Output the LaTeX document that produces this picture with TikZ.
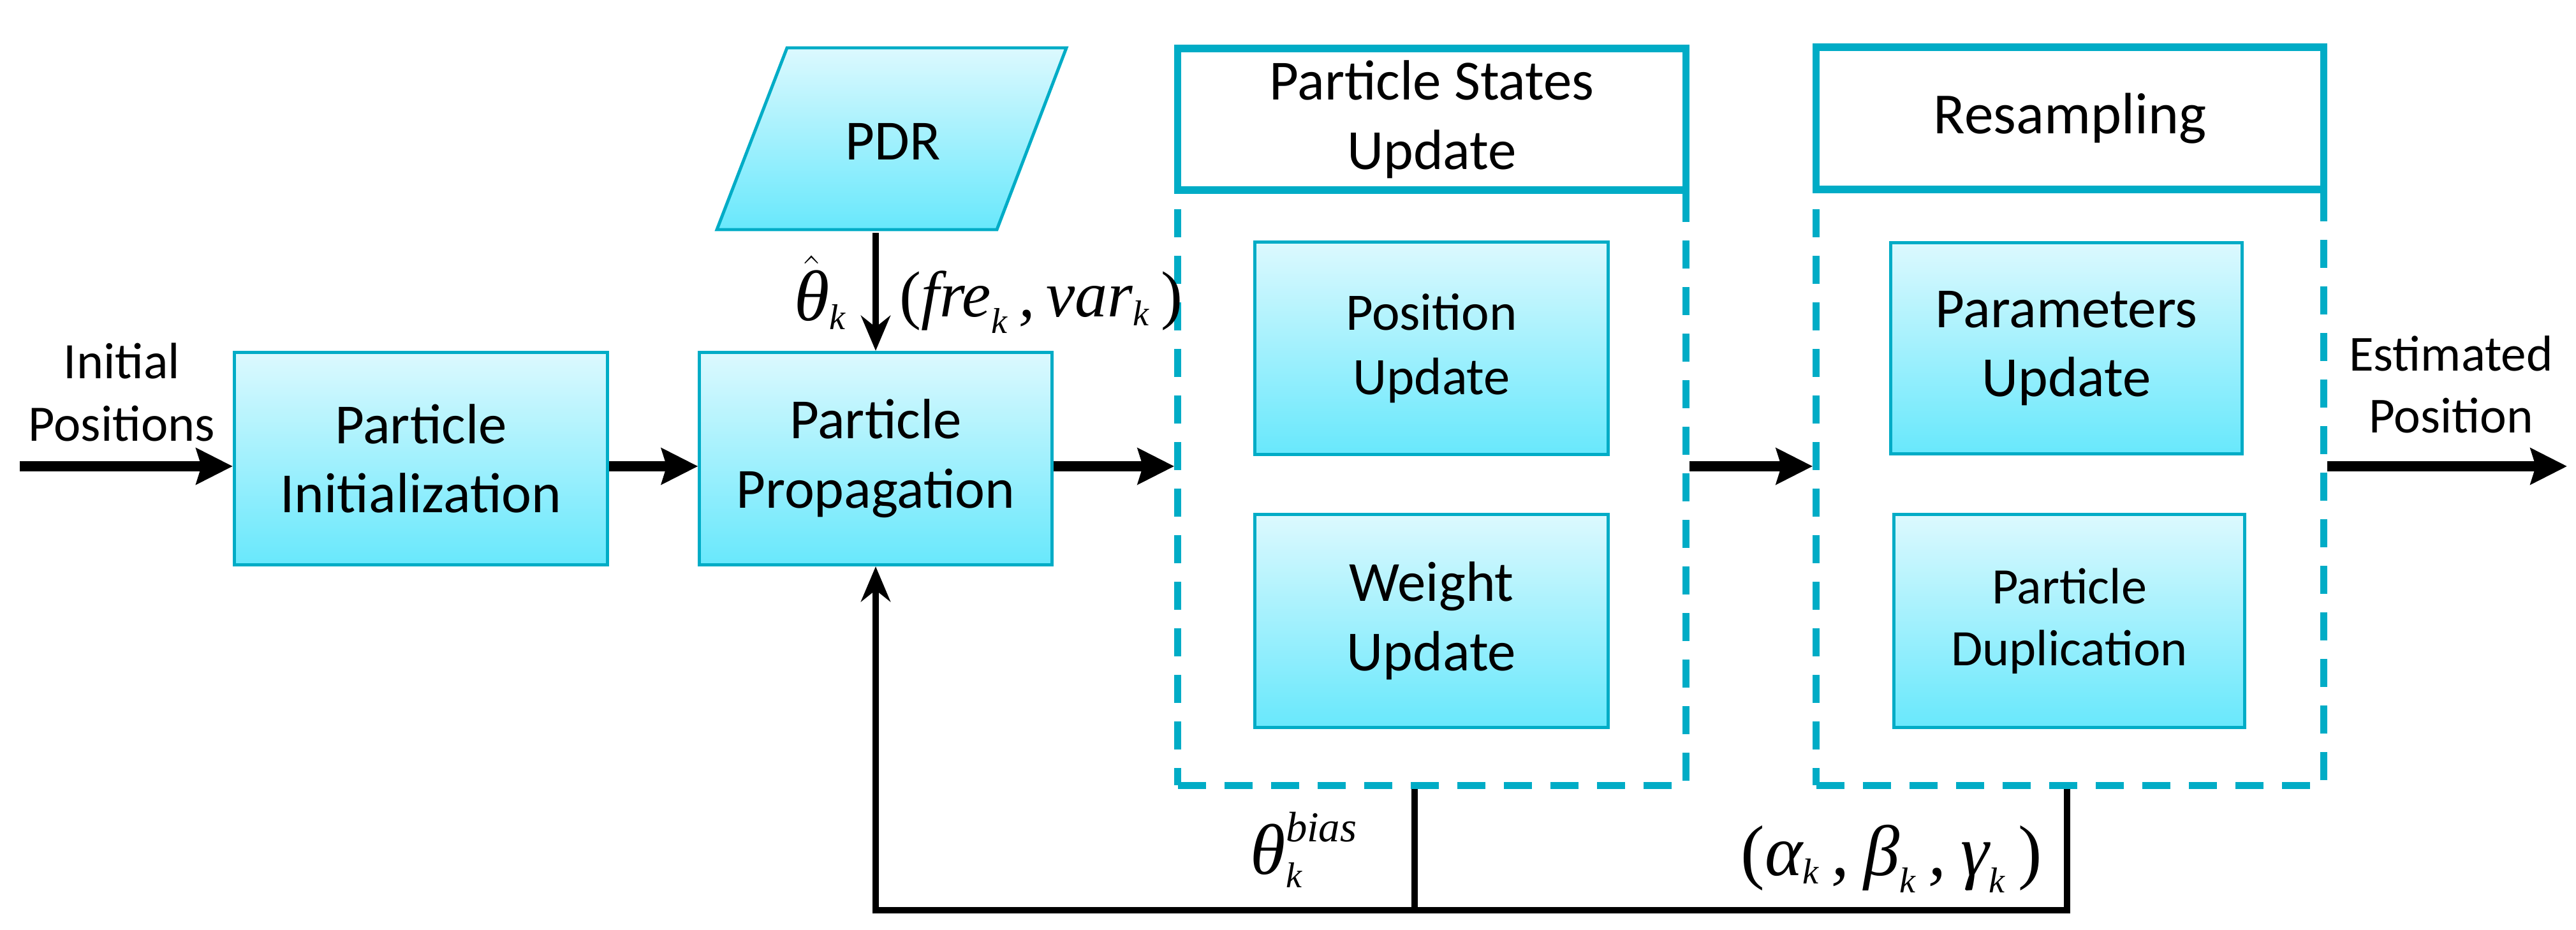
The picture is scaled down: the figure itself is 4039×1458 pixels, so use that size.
\documentclass[tikz,border=0pt]{standalone}
\usepackage{fontspec}
\setmainfont{Carlito}
\newfontfamily\tms{Liberation Serif}
\usetikzlibrary{arrows.meta}
\definecolor{cyanline}{RGB}{0,172,198}
\definecolor{gtop}{RGB}{220,249,254}
\definecolor{gbot}{RGB}{104,232,252}
\newcommand\lsub[2]{\ensuremath{\mbox{#1}_{\mbox{\fontsize{16pt}{16pt}\selectfont #2}}}}
\tikzset{
  box/.style={draw=cyanline, line width=1.4pt, top color=gtop, bottom color=gbot, align=center, inner sep=0pt},
  big/.style={font=\fontsize{25.3pt}{30.9pt}\selectfont},
  small/.style={font=\fontsize{22.8pt}{27.8pt}\selectfont},
  mainarrow/.style={line width=4.8pt, -{Stealth[length=0.57cm,width=0.56cm,inset=0.08cm]}},
  thinarrow/.style={line width=2.85pt, -{Stealth[length=0.55cm,width=0.46cm,inset=0.18cm]}},
  fbline/.style={line width=2.85pt},
  hdr/.style={draw=cyanline, line width=3.2pt, align=center, inner sep=0pt},
  body/.style={draw=cyanline, line width=3.2pt, dash pattern=on 0.44cm off 0.29cm, inner sep=0pt},
  lbl/.style={inner sep=0pt, align=center},
}
\begin{document}
\begin{tikzpicture}[x=0.01cm, y=-0.01cm]
\useasboundingbox (0,0) rectangle (4039,1458);

% main line level
\coordinate (ml) at (31,731);
\coordinate (out) at (4025,731);

% boxes
\node[box, big, minimum width=5.85cm, minimum height=3.33cm] (pi) at (660,719) {Particle\\Initialization};
\node[box, big, minimum width=5.52cm, minimum height=3.33cm] (pp) at (1373,719) {Particle\\Propagation};

% PDR parallelogram
\path[draw=cyanline, line width=1.4pt, top color=gtop, bottom color=gbot]
  (1234,75) -- (1672,75) -- (1563,360) -- (1124,360) -- cycle;
\node[big, lbl, minimum height=2.85cm] (pdr) at (1400,222) {PDR};

% Particle States Update group
\node[hdr, big, minimum width=7.96cm, minimum height=2.22cm] (psuh) at (2245,187) {Particle States\\Update};
\node[body, minimum width=7.96cm, minimum height=9.33cm] (psub) at (2245,764.5) {};
\node[box, font=\fontsize{23.5pt}{28.5pt}\selectfont, minimum width=5.53cm, minimum height=3.32cm] (pos) at (2244.5,546) {Position\\Update};
\node[box, big, minimum width=5.53cm, minimum height=3.33cm] (wu) at (2244.5,973.5) {Weight\\Update};

% Resampling group
\node[hdr, font=\fontsize{26pt}{31pt}\selectfont, minimum width=7.95cm, minimum height=2.23cm] (rsh) at (3245.5,185.5) {Resampling};
\node[body, minimum width=7.95cm, minimum height=9.34cm] (rsb) at (3245.5,764) {};
\node[box, big, minimum width=5.50cm, minimum height=3.30cm] (par) at (3240,546) {Parameters\\Update};
\node[box, small, minimum width=5.49cm, minimum height=3.33cm] (dup) at (3244.5,973.5) {Particle\\Duplication};

% labels
\node[lbl, small] (ip) at (191,615) {Initial\\Positions};
\node[lbl, font=\fontsize{22.5pt}{27.5pt}\selectfont] (ep) at (3843,603) {Estimated\\Position};

% main arrows
\draw[mainarrow] (ml) -- (pi.west |- ml);
\draw[mainarrow] (pi.east |- ml) -- (pp.west |- ml);
\draw[mainarrow] (pp.east |- ml) -- (psub.west |- ml);
\draw[mainarrow] (psub.east |- ml) -- (rsb.west |- ml);
\draw[mainarrow] (rsb.east |- ml) -- (out);

% PDR arrow
\draw[thinarrow] (pdr.south -| pp.north) -- (pp.north);
\node[anchor=base east, inner sep=0pt] (th) at (1328,503)
  {\fontsize{32pt}{32pt}\selectfont$\hat{\mbox{\tms\itshape θ}}_{\mbox{\tms\itshape\fontsize{16pt}{16pt}\selectfont k}}$};
\node[anchor=base west, inner sep=0pt] (fv) at (1410,497)
  {\fontsize{29pt}{29pt}\selectfont\tms\itshape {\upshape(}\lsub{fre}{k}\,,\,\lsub{var}{k}\,{\upshape)}};

% feedback
\coordinate (fa) at (2218,1427);
\coordinate (fb) at (3241,1427);
\draw[fbline] (psub.south -| fa) -- (fa);
\draw[thinarrow] (rsb.south -| fb) -- (fb) -- (pp.south |- fb) -- (pp.south);
\node[anchor=base west, inner sep=0pt] (tb) at (1960,1370)
  {\fontsize{32pt}{32pt}\selectfont\tms\itshape $\mbox{θ}^{\mbox{\fontsize{19pt}{19pt}\selectfont bias}}_{\mbox{\fontsize{16pt}{16pt}\selectfont k}}$};
\node[anchor=base west, inner sep=0pt] (abg) at (2729,1372)
  {\fontsize{32pt}{32pt}\selectfont\tms\itshape {\upshape(}\lsub{α}{k}\,,\hspace{0.2em}\lsub{β}{k}\,,\hspace{0.2em}\lsub{γ}{k}\,{\upshape)}};
\end{tikzpicture}
\end{document}
